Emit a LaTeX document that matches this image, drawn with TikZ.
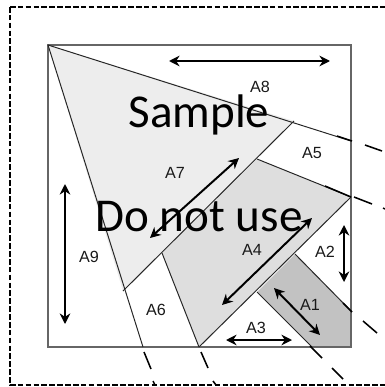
\documentclass[tikz,border=0pt]{standalone}
\usepackage{fontspec}
\setmainfont{Liberation Sans}
\newfontfamily\stampfont{Carlito}
\usetikzlibrary{arrows.meta}
\tikzset{
    region/.style={draw=black!85, line width=0.7pt},
    span/.style={{Stealth[length=7.5pt,width=7.5pt]}-{Stealth[length=7.5pt,width=7.5pt]}, line width=1.4pt},
    cutline/.style={black, line width=1.1pt},
    tag/.style={font=\fontsize{11.5pt}{13pt}\selectfont, text=black!90, inner sep=0pt},
    stamp/.style={font=\stampfont\fontsize{33.5pt}{36pt}\selectfont, inner sep=0pt, anchor=base}
}
\begin{document}
\begin{tikzpicture}[x=0.025cm, y=-0.025cm]
    \useasboundingbox (0,0) rectangle (385,387);
    % Outer frame
    \draw[line width=1.6pt, dash pattern=on 4pt off 1.6pt] (10,7) -- (385,7);
    \draw[line width=1.6pt, dash pattern=on 4pt off 1.6pt] (10,7) -- (10,385) -- (385,385);
    % Corners of the square
    \coordinate (tl) at (48,45);
    \coordinate (tr) at (351,45);
    \coordinate (br) at (351,347);
    \coordinate (bl) at (48,347);
    \coordinate (a7top) at (294,121);
    \coordinate (a7low) at (123,291);
    \coordinate (a4top) at (257,159);
    \coordinate (a4right) at (351,197);
    \coordinate (a4bot) at (199,347);
    \coordinate (a4left) at (162,253);
    \coordinate (a1top) at (295,254);
    \coordinate (a1right) at (351,311);
    \coordinate (a1bot) at (312,347);
    \coordinate (a1left) at (257,292);
    % Shaded regions
    \fill[black!7] (tl) -- (a7top) -- (a7low) -- cycle;
    \fill[black!13] (a4top) -- (a4right) -- (a4bot) -- (a4left) -- cycle;
    \fill[black!24] (a1top) -- (a1right) -- (br) -- (a1bot) -- (a1left) -- cycle;
    % Square and fold lines
    \draw[line width=1.1pt, draw=black!60] (tl) -- (tr) -- (br) -- (bl) -- cycle;
    \draw[region] (tl) -- (351,141);
    \draw[region] (tl) -- (143,347);
    \draw[region] (a7top) -- (a7low);
    \draw[region] (a4top) -- (a4right);
    \draw[region] (a4left) -- (a4bot);
    \draw[region] (a4right) -- (a4bot);
    \draw[region] (a1top) -- (a1right);
    \draw[region] (a1left) -- (a1bot);
    % Dashes running out of the square
    \draw[cutline] (337,136) -- (352,141);
    \draw[cutline] (365,145) -- (382,151);
    \draw[cutline] (325,186) -- (351,197);
    \draw[cutline] (354,197) -- (372,204);
    \draw[cutline] (383,208) -- (385,209);
    \draw[cutline] (343,303) -- (352,312);
    \draw[cutline] (363,321) -- (377,333);
    \draw[cutline] (310,346) -- (322,358);
    \draw[cutline] (332,368) -- (343,379);
    \draw[cutline] (144,352) -- (151,369);
    \draw[cutline] (153,381) -- (155,385);
    \draw[cutline] (201,352) -- (208,368);
    \draw[cutline] (213,381) -- (216,385);
    % Width arrows
    \draw[span] (169,61) -- (330,61);
    \draw[span] (65,184) -- (65,324);
    \draw[span] (150,238) -- (239,158);
    \draw[span] (222,305) -- (312,218);
    \draw[span] (344,225) -- (344,282);
    \draw[span] (274,288) -- (320,335);
    \draw[span] (226,340) -- (292,340);
    % Labels
    \node[tag] (a1) at (310,305) {A1};
    \node[tag] (a2) at (325,252) {A2};
    \node[tag] (a3) at (256,328) {A3};
    \node[tag] (a4) at (252,250) {A4};
    \node[tag] (a5) at (312,153) {A5};
    \node[tag] (a6) at (156,310) {A6};
    \node[tag] (a7) at (175,173) {A7};
    \node[tag] (a8) at (260,87) {A8};
    \node[tag] (a9) at (89,257) {A9};
    % Watermark
    \node[stamp] (sample) at (199,127) {Sample};
    \node[stamp] (donot) at (199,231) {Do not use};
\end{tikzpicture}
\end{document}
